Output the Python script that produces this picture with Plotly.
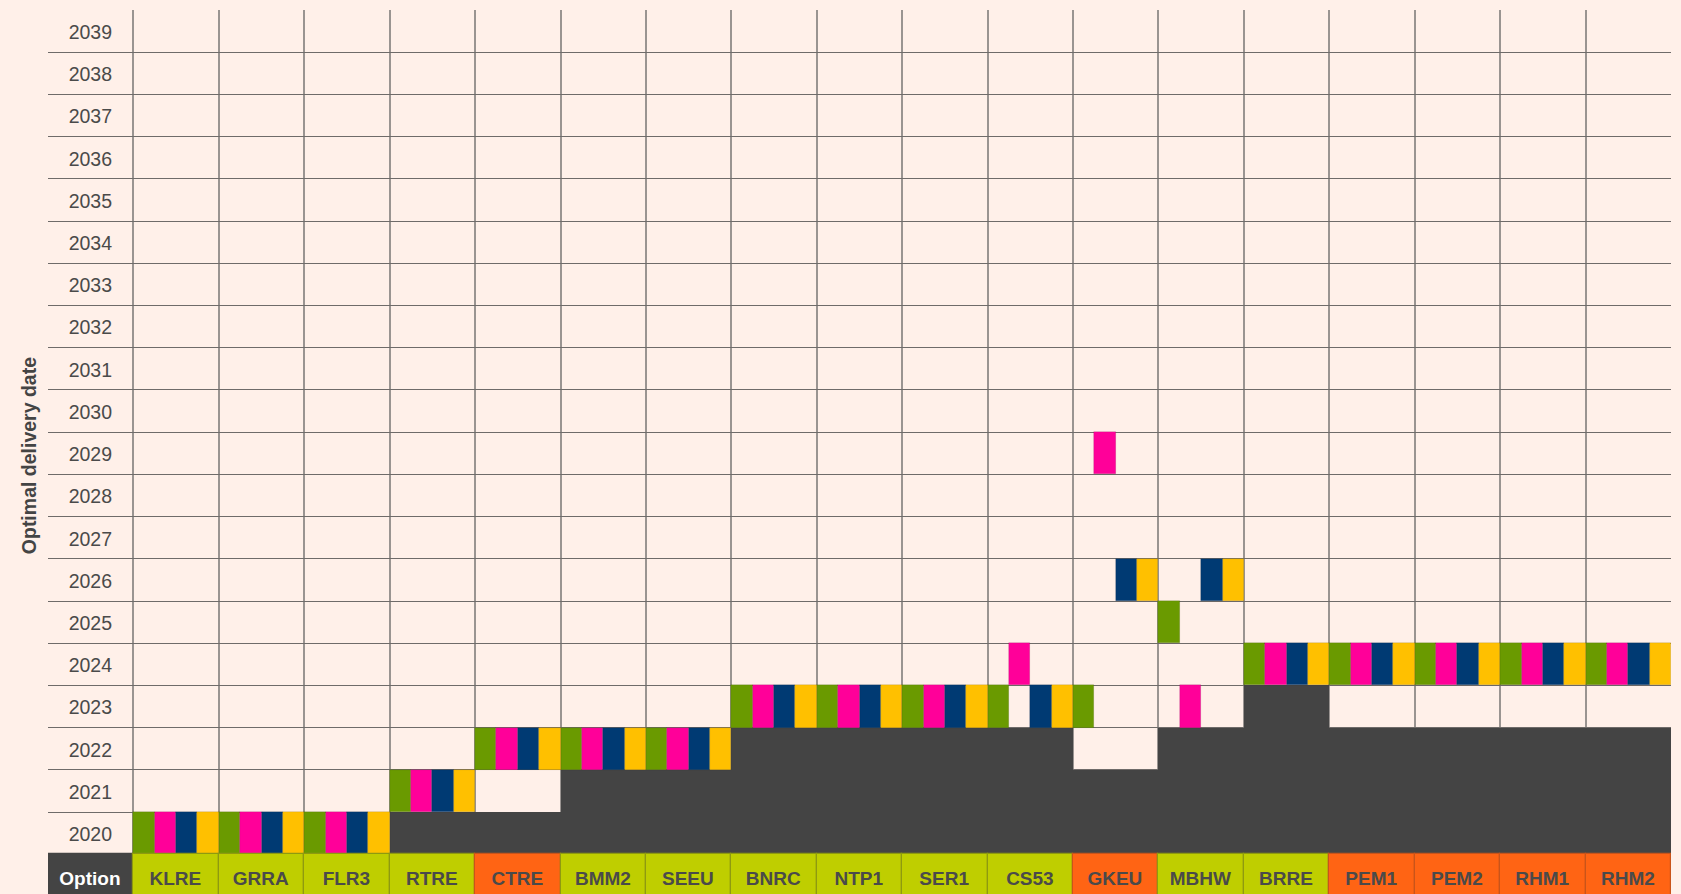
import plotly.graph_objects as go

# ---------------- data ----------------
options = ["KLRE", "GRRA", "FLR3", "RTRE", "CTRE", "BMM2", "SEEU", "BNRC", "NTP1",
           "SER1", "CS53", "GKEU", "MBHW", "BRRE", "PEM1", "PEM2", "RHM1", "RHM2"]
option_type = ["A", "A", "A", "A", "B", "A", "A", "A", "A",
               "A", "A", "B", "A", "A", "B", "B", "B", "B"]

# optimal delivery year per scenario (green, magenta, navy, gold)
scen_green   = [2020, 2020, 2020, 2021, 2022, 2022, 2022, 2023, 2023,
                2023, 2023, 2023, 2025, 2024, 2024, 2024, 2024, 2024]
scen_magenta = [2020, 2020, 2020, 2021, 2022, 2022, 2022, 2023, 2023,
                2023, 2024, 2029, 2023, 2024, 2024, 2024, 2024, 2024]
scen_navy    = [2020, 2020, 2020, 2021, 2022, 2022, 2022, 2023, 2023,
                2023, 2023, 2026, 2026, 2024, 2024, 2024, 2024, 2024]
scen_gold    = [2020, 2020, 2020, 2021, 2022, 2022, 2022, 2023, 2023,
                2023, 2023, 2026, 2026, 2024, 2024, 2024, 2024, 2024]

# earliest possible delivery year (years before it are unavailable, shaded dark)
earliest = [2020, 2020, 2020, 2021, 2021, 2022, 2022, 2023, 2023,
            2023, 2023, 2022, 2023, 2024, 2023, 2023, 2023, 2023]

years = list(range(2020, 2040))
first_col_label = "Option"
y_title = "Optimal delivery date"

# ---------------- styles ----------------
BG = "#FFF0E9"
DARK = "#444444"
TEXT = "#4a4a4a"
scen_colors = ["#6A9A00", "#FF0099", "#003A73", "#FFC000"]
type_fill = {"A": "#BFCE00", "B": "#FF6414"}
type_line = {"A": "#8E9A10", "B": "#C9541A"}
FONT = "Liberation Sans, Arial, Helvetica, sans-serif"
LABEL_NUDGE = 0.07   # small downward nudge of year labels (in row units)

n = len(options)
fig = go.Figure()

# unavailable (dark) region
fig.add_trace(go.Bar(
    x=[i + 0.5 for i in range(n)],
    y=[e - years[0] for e in earliest],
    base=[years[0] - 0.5] * n,
    width=[1.0] * n,
    marker=dict(color=DARK, line=dict(width=0)),
    hoverinfo="skip", showlegend=False,
))

# scenario bars
scenarios = [scen_green, scen_magenta, scen_navy, scen_gold]
sub_w = 1.0 / len(scenarios)
for j, (vals, col) in enumerate(zip(scenarios, scen_colors)):
    fig.add_trace(go.Bar(
        x=[i + sub_w * (j + 0.5) for i in range(n)],
        y=[1] * n,
        base=[v - 0.5 for v in vals],
        width=[sub_w] * n,
        marker=dict(color=col, line=dict(width=0.6, color="rgba(0,0,0,0.18)")),
        hoverinfo="skip", showlegend=False,
    ))

# option label row
lab_x = [-0.5] + [i + 0.5 for i in range(n)]
lab_text = [first_col_label] + options
lab_fill = [DARK] + [type_fill[t] for t in option_type]
lab_line = [DARK] + [type_line[t] for t in option_type]
lab_font_col = ["#FFFFFF"] + [TEXT] * n
fig.add_trace(go.Bar(
    x=lab_x,
    y=[1.2] * (n + 1),
    base=[years[0] - 1.7] * (n + 1),
    width=[1.0] * (n + 1),
    marker=dict(color=lab_fill, line=dict(width=1.2, color=lab_line)),
    text=lab_text,
    textposition="inside",
    insidetextanchor="middle",
    textangle=0,
    insidetextfont=dict(family=FONT, size=19, color=lab_font_col, weight="bold"),
    hoverinfo="skip", showlegend=False,
))

# year labels
fig.add_trace(go.Scatter(
    x=[-0.25] * len(years),
    y=[y - LABEL_NUDGE for y in years],
    mode="text",
    text=[str(y) for y in years],
    textposition="middle left",
    textfont=dict(family=FONT, size=19.5, color=TEXT),
    hoverinfo="skip", showlegend=False,
))

fig.add_annotation(
    text=y_title, textangle=-90,
    xref="paper", x=-0.0112, xanchor="center",
    yref="y", y=2028.95, yanchor="middle",
    showarrow=False,
    font=dict(family=FONT, size=19.5, color=DARK, weight="bold"),
)

fig.update_layout(
    width=1681, height=894,
    margin=dict(l=48, r=10, t=10, b=0),
    paper_bgcolor=BG, plot_bgcolor=BG,
    barmode="overlay",
    bargap=0,
    xaxis=dict(
        range=[-1, n], tickvals=list(range(0, n)), showticklabels=False,
        ticks="", showgrid=True, gridcolor="#9a9491", gridwidth=1.5,
        zeroline=False, showline=False, fixedrange=True,
    ),
    yaxis=dict(
        range=[years[0] - 1.44, years[-1] + 0.5],
        tickvals=[y - 0.5 for y in years[1:]] + [years[0] - 0.5],
        showticklabels=False, ticks="",
        showgrid=True, gridcolor="#6f6b69", gridwidth=1.2,
        zeroline=False, showline=False, fixedrange=True,
    ),
    font=dict(family=FONT),
)

fig.write_html(
    "out.html",
    config={"displayModeBar": False},
    post_script=(
        "document.body.style.margin='0';"
        "document.body.style.padding='0';"
        "document.body.style.overflow='hidden';"
        "document.body.style.background='" + BG + "';"
    ),
)
